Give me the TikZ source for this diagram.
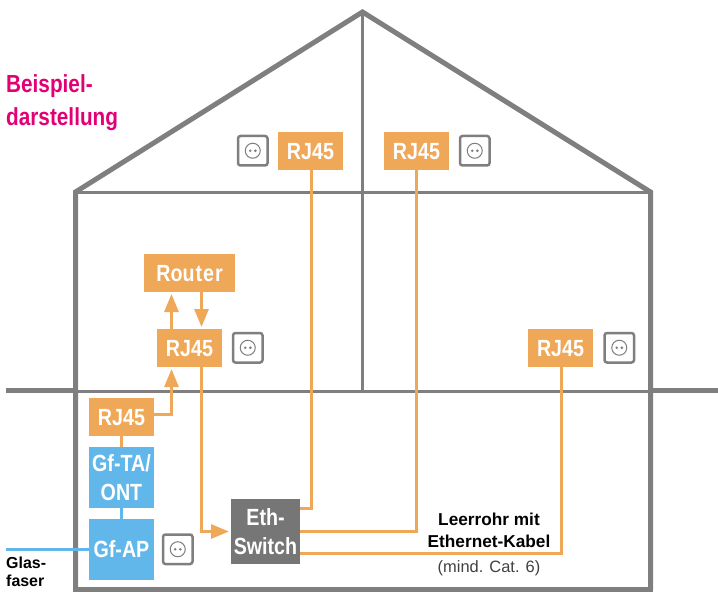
\documentclass[tikz,border=0pt]{standalone}
\usepackage{fontspec}
\setmainfont[FakeStretch=0.84]{Liberation Sans}
\newfontfamily\plainlab{Liberation Sans}
\usetikzlibrary{arrows.meta,calc}
\definecolor{org}{HTML}{EEA858}
\definecolor{blu}{HTML}{62B7EA}
\definecolor{gry}{HTML}{7F7F7F}
\definecolor{dgr}{HTML}{767676}
\definecolor{mag}{HTML}{E20074}
\tikzset{
 x=1bp,y=-1bp,
 box/.style={anchor=north west,inner sep=0,outer sep=0,align=center,text=white,font=\fontsize{23.5}{30}\selectfont\bfseries,text depth=0pt},
 rj/.style={box,fill=org,minimum width=65bp,minimum height=38bp},
 wire/.style={draw=org,line width=3bp},
 tip/.style={-{Triangle[length=18bp,width=14bp]},shorten >=2bp},
 wall/.style={draw=gry,line width=5bp,line join=miter},
 thin wall/.style={draw=gry,line width=3bp},
 fibre/.style={draw=blu,line width=3bp},
 plate/.style={anchor=north west,draw=gry,line width=2.5bp,rounded corners=2.5bp,minimum width=29.5bp,minimum height=29.5bp,inner sep=0,outer sep=0,fill=white},
 lbl/.style={inner sep=0,align=center,text=black,font=\plainlab\fontsize{17.3}{22}\selectfont\bfseries},
}
\newcommand{\socket}[3]{%
 \node[plate] (#1) at (#2,#3) {};
 \draw[gry,line width=1bp] (#1.center) circle (7.5bp);
 \fill[gry] ($(#1.center)+(-2.6,0)$) circle (1.4bp);
 \fill[gry] ($(#1.center)+(2.6,0)$) circle (1.4bp);
}
\begin{document}
\begin{tikzpicture}
\useasboundingbox (0,0) rectangle (718,592);
% house
\coordinate (apex) at (362.5,12);
\coordinate (el) at (75.5,192);
\coordinate (er) at (650.5,192);
\draw[thin wall] (75.5,192.5) -- (650.5,192.5);
\draw[thin wall] (75,391.5) -- (651,391.5);
\draw[thin wall] (apex) -- (362.5,391);
\draw[wall] (75.5,590) -- (el) -- (apex) -- (er) -- (650.5,590);
\draw[wall] (73,589.5) -- (653,589.5);
\draw[wall] (6,390.5) -- (75,390.5);
\draw[wall] (651,390.5) -- (718,390.5);
% boxes
\node[rj] (top1) at (278,132) {RJ45};
\node[rj] (top2) at (384,132) {RJ45};
\node[box,fill=org,minimum width=91bp,minimum height=38bp] (router) at (144,254) {Rou\hspace{1bp}t\hspace{1bp}e\hspace{1bp}r};
\node[rj] (mid) at (157,329) {RJ45};
\node[rj] (right) at (528,329) {RJ45};
\node[rj] (low) at (89,398) {RJ45};
\node[box,fill=blu,minimum width=65bp,minimum height=61bp] (ta) at (89,447) {Gf-TA/\\ONT};
\node[box,fill=blu,minimum width=65bp,minimum height=61bp] (ap) at (89,519) {Gf-AP};
\node[box,fill=dgr,minimum width=69bp,minimum height=65bp] (sw) at (231,499) {Eth-\\Switch};
% sockets
\socket{s1}{238}{136}
\socket{s2}{460}{136}
\socket{s3}{233}{333}
\socket{s4}{604.5}{333}
\socket{s5}{163}{534.5}
% wires
\draw[wire] (low.south) -- (ta.north);
\draw[fibre] (ta.south) -- (ap.north);
\draw[wire,tip] (low.east |- 0,414.5) -- (171.5,414.5) -- (mid.south -| 171.5,0);
\draw[wire,tip] (mid.north -| 171.5,0) -- (router.south -| 171.5,0);
\draw[wire,tip] (router.south -| 201.5,0) -- (mid.north -| 201.5,0);
\draw[wire,tip] (mid.south -| 201.5,0) -- (201.5,531.5) -- (sw.west |- 0,531.5);
\draw[wire] (top1.south -| 311.5,0) -- (311.5,508.5) -- (sw.east |- 0,508.5);
\draw[wire] (top2.south -| 416.5,0) -- (416.5,531.5) -- (sw.east |- 0,531.5);
\draw[wire] (right.south -| 561.5,0) -- (561.5,553.5) -- (sw.east |- 0,553.5);
\coordinate (fib) at (6,549.5);
\draw[fibre] (fib) -- (ap.west |- fib);
% labels
\node[anchor=north west,inner sep=0,align=left,text=mag,font=\fontsize{24.8}{34}\selectfont\bfseries] (bsp) at (6,74) {Beispiel-\\darstellung};
\node[anchor=north west,inner sep=0,align=left,font=\plainlab\fontsize{16}{18}\selectfont\bfseries] (gl) at (6,556.5) {Glas-\\faser};
\node[lbl] (lr) at (489,530) {Leerrohr mit\\Ethernet-Kabel};
\node[inner sep=0,font=\plainlab\fontsize{16.5}{20}\selectfont,text=black!75] (cat) at (489,568.5) {(mind. Cat. 6)};
\end{tikzpicture}
\end{document}
